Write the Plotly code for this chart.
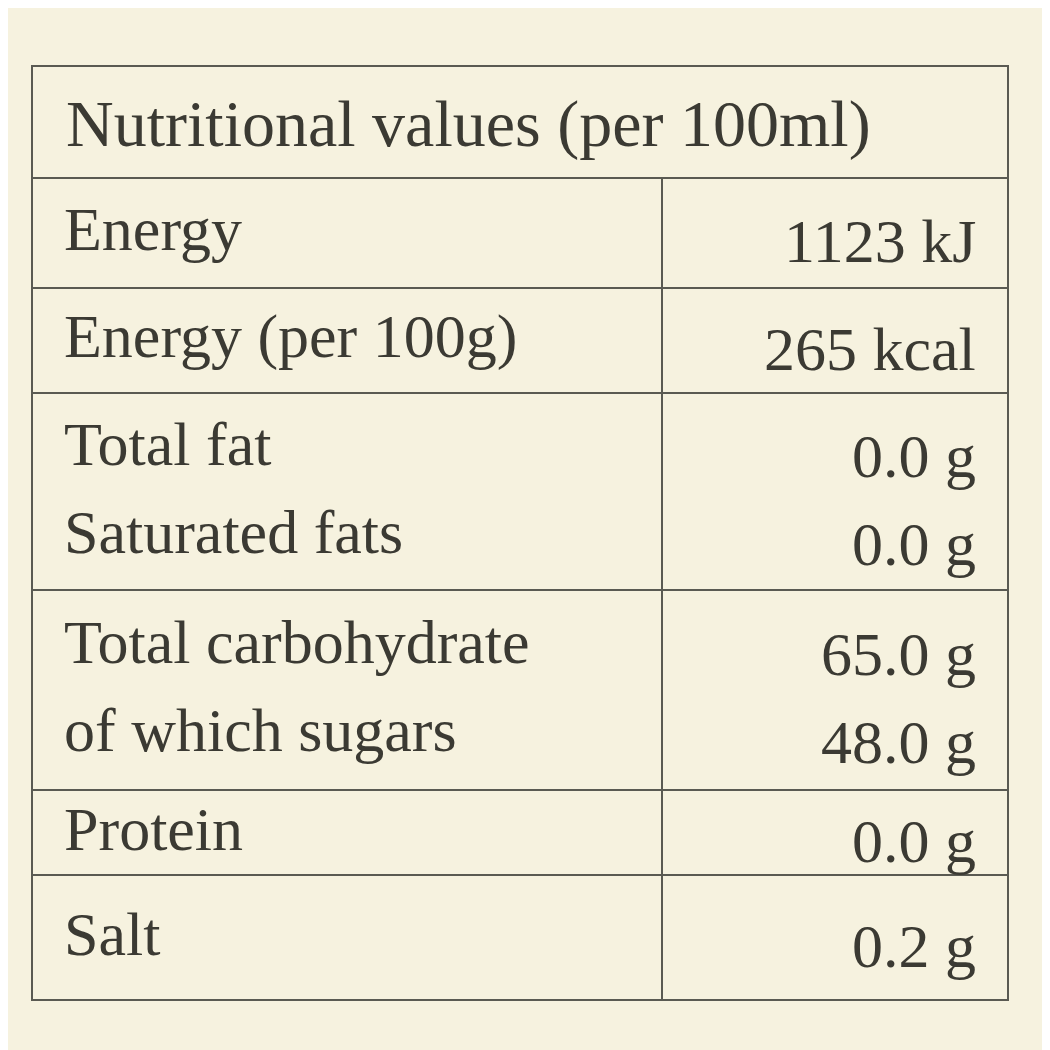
import plotly.graph_objects as go

title = "Nutritional values (per 100ml)"
row_labels = [["Energy"], ["Energy (per 100g)"], ["Total fat", "Saturated fats"],
              ["Total carbohydrate", "of which sugars"], ["Protein"], ["Salt"]]
row_values = [["1123 kJ"], ["265 kcal"], ["0.0 g", "0.0 g"],
              ["65.0 g", "48.0 g"], ["0.0 g"], ["0.2 g"]]

# page offset compensation (browser body margin)
off = 8
# row boundaries (pixels, top to bottom)
edges = [66, 178, 288, 393, 590, 790, 875, 1000]
edges = [e - off for e in edges]
left, right, divider = 32 - off, 1008 - off, 662 - off
ink = "#3b3a33"
line = dict(color="#5a5a52", width=2)
font = dict(family="Liberation Serif, DejaVu Serif, serif", size=62, color=ink)
hfont = dict(font, size=66)

fig = go.Figure()
shapes = [dict(type="rect", x0=left, x1=right, y0=edges[0], y1=edges[-1], line=line, layer="above")]
for y in edges[1:-1]:
    shapes.append(dict(type="line", x0=left, x1=right, y0=y, y1=y, line=line))
shapes.append(dict(type="line", x0=divider, x1=divider, y0=edges[1], y1=edges[-1], line=line))

annotations = [dict(x=64 - off, y=(edges[0] + edges[1]) / 2 + 2, text=title, xanchor="left",
                    showarrow=False, font=hfont)]
for i, (labels, values) in enumerate(zip(row_labels, row_values)):
    top, bot = edges[i + 1], edges[i + 2]
    mid = (top + bot) / 2
    n = len(labels)
    for j, (lab, val) in enumerate(zip(labels, values)):
        yc = mid + (j - (n - 1) / 2) * 88 - 4
        annotations.append(dict(x=62 - off, y=yc, text=lab, xanchor="left", showarrow=False, font=font))
        annotations.append(dict(x=978 - off, y=yc + 12, text=val, xanchor="right", showarrow=False, font=font))

fig.update_layout(
    width=1050, height=1050, margin=dict(l=0, r=0, t=0, b=0),
    paper_bgcolor="#f6f2df", plot_bgcolor="#f6f2df",
    xaxis=dict(range=[0, 1050], visible=False, fixedrange=True),
    yaxis=dict(range=[1050, 0], visible=False, fixedrange=True),
    shapes=shapes, annotations=annotations, showlegend=False,
)
fig.write_html("out.html")
